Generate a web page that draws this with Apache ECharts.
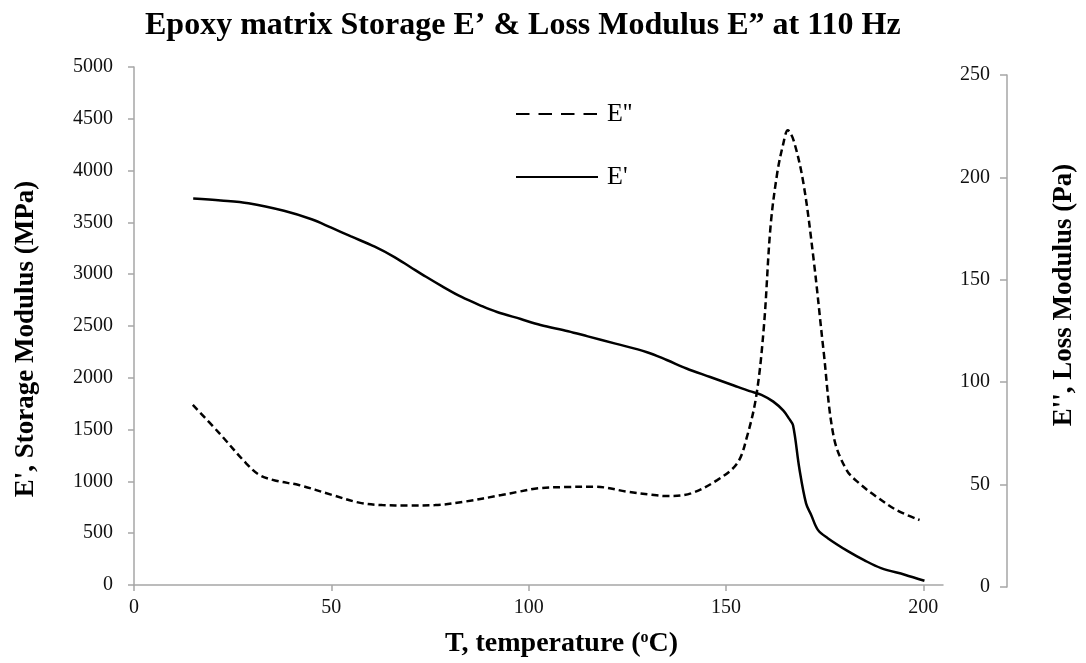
<!DOCTYPE html>
<html>
<head>
<meta charset="utf-8">
<script src="https://cdn.jsdelivr.net/npm/echarts@6/dist/echarts.min.js"></script>
<style>
  html, body { margin: 0; padding: 0; background: #fff; }
  #chart { width: 1086px; height: 663px; }
</style>
</head>
<body>
<div id="chart"></div>
<script>
// E' storage modulus (MPa), left axis
const storageT = [15, 22, 29, 38, 45, 50, 55, 61, 66, 70, 74, 78, 83, 88, 92, 98, 103, 110, 115, 122, 130, 135, 140, 146, 152, 156, 159, 162, 164.5, 166, 167, 168.6, 170.3, 171.6, 173.3, 175.8, 181, 185, 189.3, 195.3, 200.3];
const storageE = [3731, 3712, 3685, 3612, 3530, 3449, 3365, 3265, 3165, 3070, 2975, 2885, 2780, 2695, 2635, 2567, 2510, 2450, 2400, 2330, 2247, 2172, 2090, 2008, 1926, 1872, 1836, 1770, 1685, 1606, 1541, 1125, 788, 676, 532, 452, 324, 240, 163, 99, 41];

// E'' loss modulus (Pa), right axis
const lossT = [15, 21.8, 28.6, 32, 36.2, 42, 50.6, 57.4, 63.3, 70, 76.8, 84.4, 93.7, 98, 103, 110, 117.4, 125.9, 132, 136, 142, 148.7, 153.8, 156.3, 158.7, 160.6, 162.3, 164, 165.5, 166.7, 168.2, 170.7, 173.3, 175.8, 178.4, 181.7, 185, 189.3, 194.4, 200.3];
const lossE = [88.9, 75, 60.4, 54.7, 51.9, 49.8, 44.9, 41.2, 40, 39.8, 40, 41.7, 44.9, 46.5, 48.2, 48.8, 49, 46.5, 45, 44.4, 45.7, 52.2, 60.4, 73.4, 93.7, 127, 176, 202, 216, 223, 218, 197, 159.7, 115.7, 73.4, 57.1, 50.5, 44.1, 37.6, 32.7];

const xTicks = [0, 50, 100, 150, 200];

const serif = '"Liberation Serif", "Times New Roman", serif';
const axisGray = '#a6a6a6';

const chart = echarts.init(document.getElementById('chart'));

const option = {
  backgroundColor: '#fff',
  animation: false,
  title: {
    text: 'Epoxy matrix Storage E\u2019 & Loss Modulus E\u201d at 110 Hz',
    left: 140,
    top: 5,
    textStyle: { fontFamily: serif, fontSize: 32, fontWeight: 'bold', color: '#000' }
  },
  legend: {
    orient: 'vertical',
    left: 510,
    top: 96,
    itemWidth: 82,
    itemHeight: 14,
    itemGap: 37,
    itemStyle: { opacity: 0 },
    textStyle: { fontFamily: serif, fontSize: 26, color: '#000', lineHeight: 26, padding: [0, 0, 0, 4] },
    data: [
      { name: "E''", lineStyle: { type: [13.5, 9] } },
      { name: "E'" }
    ]
  },
  grid: [
    { left: 134, right: 143, top: 67, bottom: 76 },
    { left: 134, right: 143, top: 75, bottom: 76 }
  ],
  xAxis: [
    {
      type: 'value',
      gridIndex: 0,
      min: 0,
      max: 205,
      name: 'T, temperature ({sup|o}C)',
      nameLocation: 'middle',
      nameGap: 45,
      nameTextStyle: {
        fontFamily: serif, fontSize: 28, fontWeight: 'bold', color: '#000',
        padding: [0, 0, 0, 46],
        rich: {
          sup: { fontFamily: serif, fontSize: 16, fontWeight: 'bold', color: '#000', verticalAlign: 'top' }
        }
      },
      axisLine: { show: true, onZero: false, lineStyle: { color: axisGray, width: 1.5 } },
      axisTick: { show: true, length: 6, customValues: xTicks, lineStyle: { color: axisGray, width: 1.5 } },
      axisLabel: { customValues: xTicks, margin: 13, fontFamily: serif, fontSize: 20, color: '#111' },
      splitLine: { show: false }
    },
    {
      type: 'value',
      gridIndex: 1,
      min: 0,
      max: 205,
      show: false
    }
  ],
  yAxis: [
    {
      type: 'value',
      gridIndex: 0,
      position: 'left',
      min: 0,
      max: 5000,
      interval: 500,
      name: "E', Storage Modulus (MPa)",
      nameLocation: 'middle',
      nameRotate: 90,
      nameGap: 94,
      nameTextStyle: { fontFamily: serif, fontSize: 27, fontWeight: 'bold', color: '#000', padding: [0, 26, 0, 0] },
      axisLine: { show: true, onZero: false, lineStyle: { color: axisGray, width: 1.5 } },
      axisTick: { show: true, length: 6, lineStyle: { color: axisGray, width: 1.5 } },
      axisLabel: { margin: 21, fontFamily: serif, fontSize: 20, color: '#111', formatter: v => String(v) },
      splitLine: { show: false }
    },
    {
      type: 'value',
      gridIndex: 1,
      position: 'right',
      offset: 69,
      min: 0,
      max: 250,
      interval: 50,
      name: "E'', Loss Modulus (Pa)",
      nameLocation: 'middle',
      nameRotate: 90,
      nameGap: 44,
      nameTextStyle: { fontFamily: serif, fontSize: 27, fontWeight: 'bold', color: '#000', padding: [0, 0, 0, 72] },
      axisLine: { show: true, onZero: false, lineStyle: { color: axisGray, width: 1.5 } },
      axisTick: { show: true, inside: true, length: 7, lineStyle: { color: axisGray, width: 1.5 } },
      axisLabel: { inside: true, margin: 17, fontFamily: serif, fontSize: 20, color: '#111', formatter: v => String(v) },
      splitLine: { show: false }
    }
  ],
  series: [
    {
      name: "E''",
      type: 'line',
      xAxisIndex: 1,
      yAxisIndex: 1,
      symbol: 'none',
      smooth: 0.35,
      itemStyle: { color: '#000' },
      lineStyle: { color: '#000', width: 2.5, type: [7, 4] },
      data: lossT.map((t, i) => [t, lossE[i]])
    },
    {
      name: "E'",
      type: 'line',
      xAxisIndex: 0,
      yAxisIndex: 0,
      symbol: 'none',
      smooth: 0.35,
      itemStyle: { color: '#000' },
      lineStyle: { color: '#000', width: 2.5 },
      data: storageT.map((t, i) => [t, storageE[i]])
    }
  ]
};

chart.setOption(option);
</script>
</body>
</html>
